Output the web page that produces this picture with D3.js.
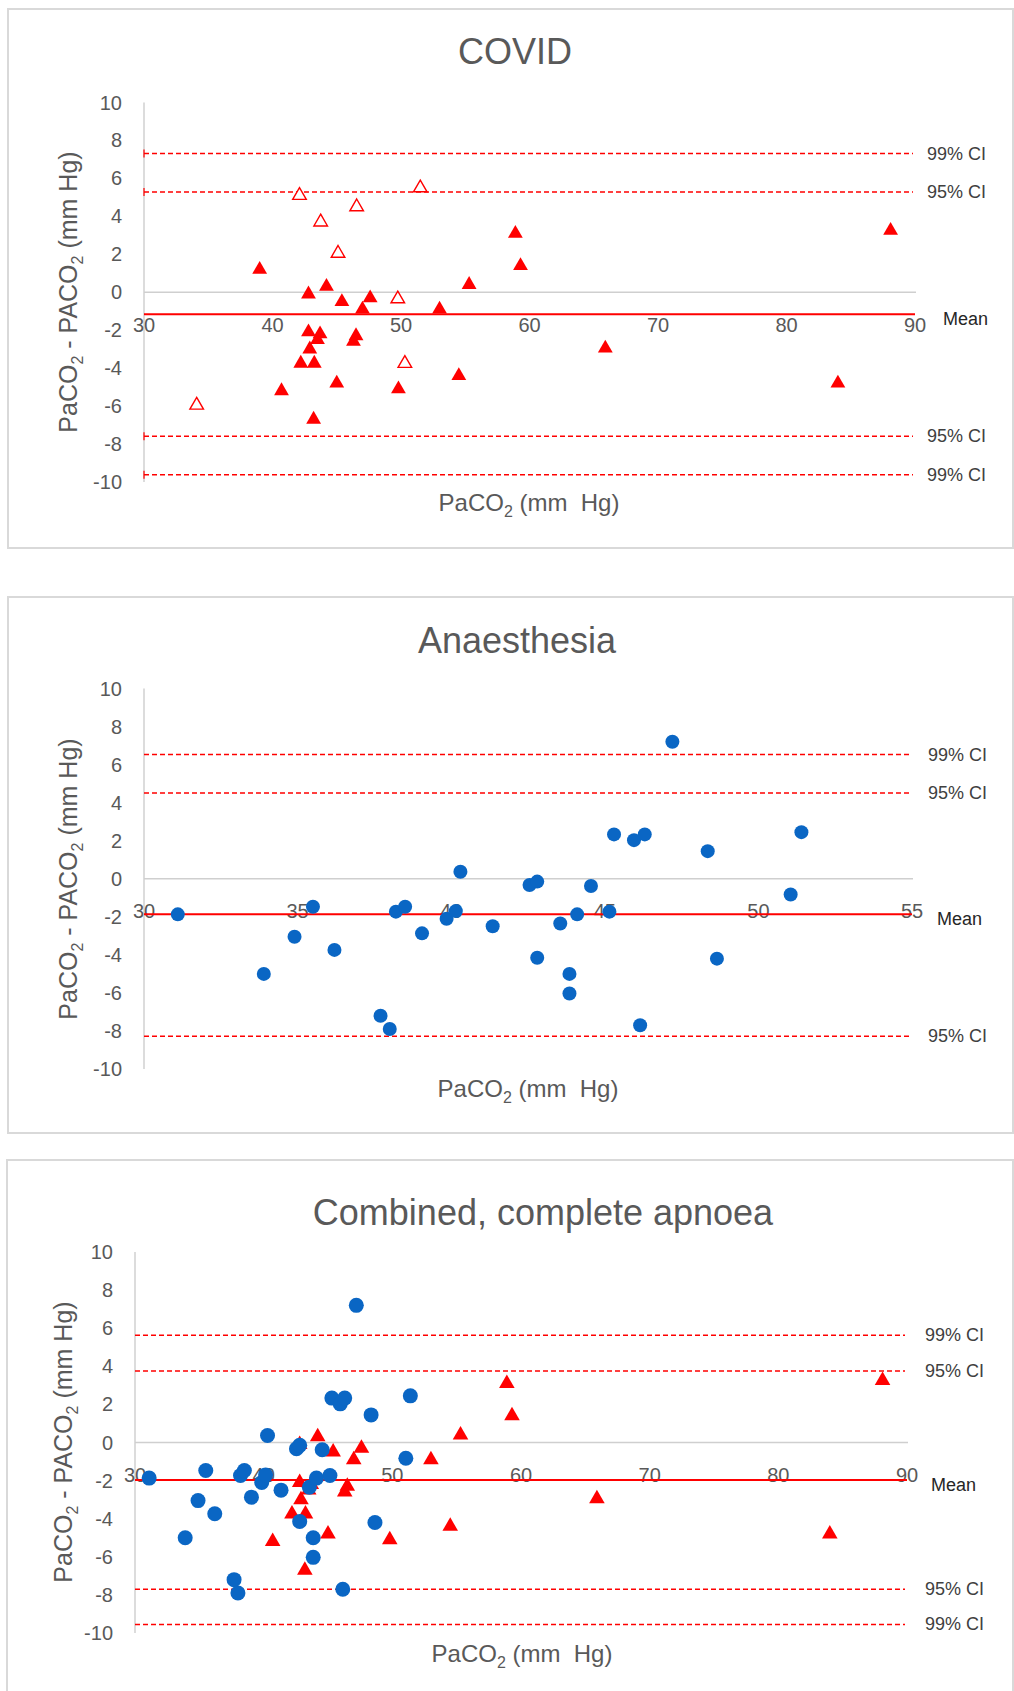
<!DOCTYPE html>
<html>
<head>
<meta charset="UTF-8">
<style>
  body { margin: 0; background: #fff; font-family: "Liberation Sans", Arial, sans-serif; }
  svg { display: block; }
</style>
</head>
<body>
<svg id="chart" width="1014" height="1691"></svg>
<script src="https://d3js.org/d3.v7.min.js"></script>
<script>
// ---- data ----
const panelTitles = ["COVID", "Anaesthesia", "Combined, complete apnoea"];

// COVID, complete apnoea (filled triangles, also in the combined panel): [PaCO2, PaCO2 - PACO2]
const covidComplete = [
  [42.8, -0.1], [44.2, 0.3], [45.4, -0.5], [47.6, -0.3],
  [47.0, -0.9], [53.0, -0.9], [55.3, 0.4], [42.8, -2.1], [43.7, -2.2],
  [43.5, -2.5], [42.9, -3.0], [42.2, -3.75], [43.25, -3.75], [46.5, -2.3],
  [46.3, -2.6], [45.0, -4.8], [40.7, -5.2], [49.8, -5.1], [54.5, -4.4],
  [43.2, -6.7], [58.9, 3.1], [59.3, 1.4], [88.1, 3.25], [65.9, -2.95],
  [84.0, -4.8]
];
// COVID filled triangle not carried into the combined panel
const covidOtherSolid = [[39.0, 1.2]];
// COVID, open triangles
const covidOpen = [
  [34.1, -5.95], [42.1, 5.1], [43.75, 3.7], [45.1, 2.05],
  [46.55, 4.5], [51.5, 5.5], [49.75, -0.35], [50.3, -3.75]
];
// Anaesthesia (blue circles)
const anaes = [
  [31.1, -1.87], [33.9, -5.0], [34.9, -3.05], [35.5, -1.47], [36.2, -3.74],
  [37.7, -7.2], [38.0, -7.9], [38.2, -1.73], [38.5, -1.47], [39.05, -2.87],
  [39.85, -2.1], [40.15, -1.7], [40.3, 0.37], [41.35, -2.5], [42.55, -0.33],
  [42.8, -0.15], [42.8, -4.15], [43.55, -2.35], [43.85, -5.0], [43.85, -6.03],
  [44.1, -1.87], [44.55, -0.38], [45.15, -1.73], [45.3, 2.33], [45.95, 2.03],
  [46.3, 2.33], [46.15, -7.7], [47.2, 7.2], [48.35, 1.45], [48.65, -4.2],
  [51.05, -0.83], [51.4, 2.45]
];

const meanValues = [-1.16, -1.87, -1.97];
const ci95 = [[-7.59, 5.28], [-8.28, 4.51], [-7.70, 3.75]];
const ci99 = [[-9.62, 7.31], [null, 6.53], [-9.55, 5.63]];

const xDomains = [[30, 90], [30, 55], [30, 90]];
const xTickValues = [
  [30, 40, 50, 60, 70, 80, 90],
  [30, 35, 40, 45, 50, 55],
  [30, 40, 50, 60, 70, 80, 90]
];
const yTickValues = [-10, -8, -6, -4, -2, 0, 2, 4, 6, 8, 10];

// ---- layout ----
const layout = [
  { box: [8, 9, 1005, 539], x0: 144, x1: 915, yTop: 102.5, yBot: 482,
    titleX: 515, titleY: 64, ylabX: 77, ylabY: 292, xlabX: 529, xlabY: 511,
    ciX: 927, meanX: 943, yTickX: 122, endTicks: true, r: 7, tri: 95 },
  { box: [8, 597, 1005, 536], x0: 144, x1: 912, yTop: 688.5, yBot: 1069,
    titleX: 517, titleY: 653, ylabX: 77, ylabY: 879, xlabX: 528, xlabY: 1097,
    ciX: 928, meanX: 937, yTickX: 122, endTicks: false, r: 7, tri: 95 },
  { box: [7, 1160, 1006, 545], x0: 135, x1: 907, yTop: 1252, yBot: 1633,
    titleX: 543, titleY: 1225, ylabX: 72, ylabY: 1442, xlabX: 522, xlabY: 1662,
    ciX: 925, meanX: 931, yTickX: 113, endTicks: false, r: 7.5, tri: 105 }
];

const RED = "#ff0000", BLUE = "#0a66c4", GREY = "#595959";
const svg = d3.select("#chart");

function drawPanel(i, series) {
  const L = layout[i];
  const g = svg.append("g");

  g.append("rect")
    .attr("x", L.box[0]).attr("y", L.box[1])
    .attr("width", L.box[2]).attr("height", L.box[3])
    .attr("fill", "#fff").attr("stroke", "#d9d9d9").attr("stroke-width", 2);

  const x = d3.scaleLinear().domain(xDomains[i]).range([L.x0, L.x1]);
  const y = d3.scaleLinear().domain([-10, 10]).range([L.yBot, L.yTop]);

  // title
  g.append("text").attr("x", L.titleX).attr("y", L.titleY)
    .attr("text-anchor", "middle").attr("fill", GREY)
    .style("font-size", "36px").text(panelTitles[i]);

  // y axis line
  g.append("line").attr("x1", L.x0).attr("x2", L.x0)
    .attr("y1", y(10)).attr("y2", y(-10))
    .attr("stroke", "#d0d0d0").attr("stroke-width", 1.5);

  // zero line
  g.append("line").attr("x1", L.x0).attr("x2", x(xDomains[i][1]) + 1)
    .attr("y1", y(0)).attr("y2", y(0))
    .attr("stroke", "#cfcfcf").attr("stroke-width", 1.5);

  // y tick labels
  g.selectAll(".ytick").data(yTickValues).enter().append("text")
    .attr("x", L.yTickX).attr("y", d => y(d) + 7)
    .attr("text-anchor", "end").attr("fill", GREY)
    .style("font-size", "20px").text(d => d);

  // x tick labels (they sit just under the zero line)
  g.selectAll(".xtick").data(xTickValues[i]).enter().append("text")
    .attr("x", d => x(d)).attr("y", y(-1.7) + 7)
    .attr("text-anchor", "middle").attr("fill", GREY)
    .style("font-size", "20px").text(d => d);

  // CI lines
  const ciLines = [];
  ci99[i].forEach(v => { if (v !== null) ciLines.push({ v: v, label: "99% CI" }); });
  ci95[i].forEach(v => ciLines.push({ v: v, label: "95% CI" }));

  g.selectAll(".ci").data(ciLines).enter().append("line")
    .attr("x1", L.x0).attr("x2", L.x1 - 2)
    .attr("y1", d => y(d.v)).attr("y2", d => y(d.v))
    .attr("stroke", RED).attr("stroke-width", 1.6)
    .attr("stroke-dasharray", "5,3");

  if (L.endTicks) {
    g.selectAll(".cit").data(ciLines).enter().append("line")
      .attr("x1", L.x0).attr("x2", L.x0)
      .attr("y1", d => y(d.v) - 4).attr("y2", d => y(d.v) + 4)
      .attr("stroke", RED).attr("stroke-width", 1.2);
  }

  g.selectAll(".cil").data(ciLines).enter().append("text")
    .attr("x", L.ciX).attr("y", d => y(d.v) + 6)
    .attr("fill", "#404040").style("font-size", "18px")
    .text(d => d.label);

  // mean line
  g.append("line").attr("x1", L.x0).attr("x2", L.x1)
    .attr("y1", y(meanValues[i])).attr("y2", y(meanValues[i]))
    .attr("stroke", RED).attr("stroke-width", 2);
  g.append("text").attr("x", L.meanX).attr("y", y(meanValues[i]) + 11)
    .attr("fill", "#262626").style("font-size", "18px").text("Mean");

  // axis titles
  const yl = g.append("text")
    .attr("transform", `translate(${L.ylabX},${L.ylabY}) rotate(-90)`)
    .attr("text-anchor", "middle").attr("fill", GREY)
    .style("font-size", "25px");
  yl.append("tspan").text("PaCO");
  yl.append("tspan").attr("dy", 6).style("font-size", "16px").text("2");
  yl.append("tspan").attr("dy", -6).text(" - PACO");
  yl.append("tspan").attr("dy", 6).style("font-size", "16px").text("2");
  yl.append("tspan").attr("dy", -6).text(" (mm Hg)");

  const xl = g.append("text")
    .attr("x", L.xlabX).attr("y", L.xlabY)
    .attr("text-anchor", "middle").attr("fill", GREY)
    .style("font-size", "24px");
  xl.append("tspan").text("PaCO");
  xl.append("tspan").attr("dy", 6).style("font-size", "16px").text("2");
  xl.append("tspan").attr("dy", -6).text(" (mm\u00a0 Hg)");

  // markers
  const tri = d3.symbol().type(d3.symbolTriangle).size(L.tri);
  if (series.solid) {
    g.selectAll(".ts").data(series.solid).enter().append("path")
      .attr("d", tri)
      .attr("transform", d => `translate(${x(d[0])},${y(d[1])})`)
      .attr("fill", RED);
  }
  if (series.open) {
    g.selectAll(".to").data(series.open).enter().append("path")
      .attr("d", d3.symbol().type(d3.symbolTriangle).size(L.tri - 15))
      .attr("transform", d => `translate(${x(d[0])},${y(d[1])})`)
      .attr("fill", "#fff").attr("stroke", RED).attr("stroke-width", 1.4);
  }
  if (series.circles) {
    g.selectAll(".c").data(series.circles).enter().append("circle")
      .attr("cx", d => x(d[0])).attr("cy", d => y(d[1]))
      .attr("r", L.r).attr("fill", BLUE);
  }
}

drawPanel(0, { solid: covidComplete.concat(covidOtherSolid), open: covidOpen });
drawPanel(1, { circles: anaes });
drawPanel(2, { solid: covidComplete, circles: anaes });
</script>
</body>
</html>
